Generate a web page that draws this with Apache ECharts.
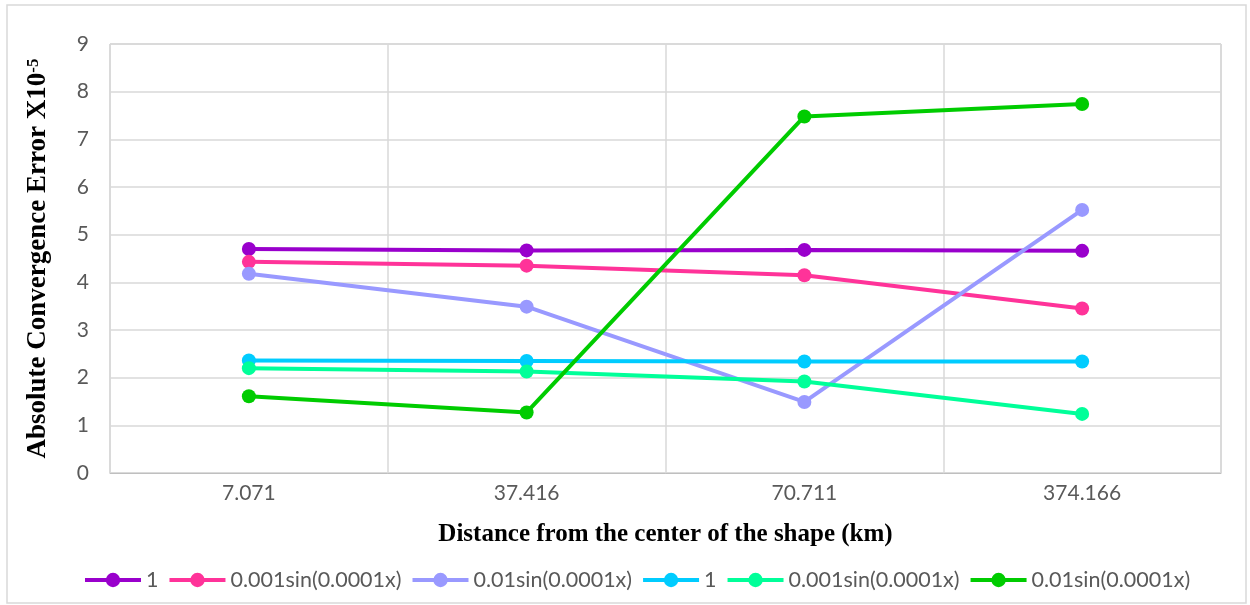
<!DOCTYPE html>
<html>
<head>
<meta charset="utf-8">
<script src="https://cdn.jsdelivr.net/npm/echarts@6/dist/echarts.min.js"></script>
<style>
html,body{margin:0;padding:0;background:#fff;}
#chart{width:1250px;height:605px;}
</style>
</head>
<body>
<div id="chart"></div>
<script>
// Data
var categories = ['7.071', '37.416', '70.711', '374.166'];
var seriesNames = ['1', '0.001sin(0.0001x)', '0.01sin(0.0001x)', '1 ', '0.001sin(0.0001x) ', '0.01sin(0.0001x) '];
var s1 = [4.70, 4.67, 4.68, 4.66];
var s2 = [4.43, 4.35, 4.15, 3.45];
var s3 = [4.18, 3.49, 1.49, 5.52];
var s4 = [2.36, 2.35, 2.34, 2.34];
var s5 = [2.20, 2.13, 1.92, 1.24];
var s6 = [1.61, 1.27, 7.48, 7.74];
var seriesValues = [s1, s2, s3, s4, s5, s6];
var seriesColors = ['#9900CC', '#FF3399', '#9999FF', '#00CCFF', '#00FF99', '#00CC00'];
var yTicks = { min: 0, max: 9, interval: 1 };

var chart = echarts.init(document.getElementById('chart'), null, { renderer: 'canvas' });
var labelFont = 'Lato';
var series = seriesNames.map(function (n, i) {
  return {
    name: n,
    type: 'line',
    data: seriesValues[i],
    symbol: 'circle',
    symbolSize: 14,
    color: seriesColors[i],
    lineStyle: { width: 4, color: seriesColors[i] },
    itemStyle: { color: seriesColors[i] },
    emphasis: { disabled: true },
    animation: false
  };
});

chart.setOption({
  animation: false,
  backgroundColor: '#fff',
  graphic: [{
    type: 'rect',
    shape: { x: 7, y: 5, width: 1239, height: 598 },
    style: { fill: 'none', stroke: '#D9D9D9', lineWidth: 1.5 },
    silent: true,
    z: -10
  }],
  grid: {
    left: 110, right: 29, top: 44, bottom: 132,
    show: true, borderColor: '#BFBFBF', borderWidth: 1
  },
  legend: {
    left: 78, top: 564,
    itemWidth: 56, itemHeight: 18, itemGap: 9,
    formatter: function (n) { return n.trim(); },
    lineStyle: { width: 4 },
    textStyle: { fontFamily: labelFont, fontSize: 21.5, color: '#595959' },
    data: seriesNames
  },
  xAxis: {
    type: 'category',
    data: categories,
    boundaryGap: true,
    name: 'Distance from the center of the shape (km)',
    nameLocation: 'middle',
    nameGap: 49,
    nameTextStyle: { fontFamily: 'Liberation Serif', fontWeight: 'bold', fontSize: 25, color: '#000' },
    axisTick: { show: false },
    axisLine: { show: true, lineStyle: { color: '#BFBFBF', width: 1 } },
    axisLabel: { fontFamily: labelFont, fontSize: 21, color: '#595959', margin: 10 },
    splitLine: { show: true, interval: 0, lineStyle: { color: '#D9D9D9', width: 1.5 } }
  },
  yAxis: {
    type: 'value',
    min: yTicks.min, max: yTicks.max, interval: yTicks.interval,
    name: '{a|Absolute Convergence Error X10}{s|-5}',
    nameLocation: 'middle',
    nameGap: 58,
    nameTextStyle: {
      rich: {
        a: { fontFamily: 'Liberation Serif', fontWeight: 'bold', fontSize: 27, color: '#000', verticalAlign: 'bottom' },
        s: { fontFamily: 'Liberation Serif', fontWeight: 'bold', fontSize: 17, color: '#000', verticalAlign: 'top' }
      }
    },
    axisLine: { show: false },
    axisTick: { show: false },
    axisLabel: { fontFamily: labelFont, fontSize: 21, color: '#595959', margin: 21 },
    splitLine: { show: true, lineStyle: { color: '#D9D9D9', width: 1.5 } }
  },
  series: series
});
</script>
</body>
</html>
